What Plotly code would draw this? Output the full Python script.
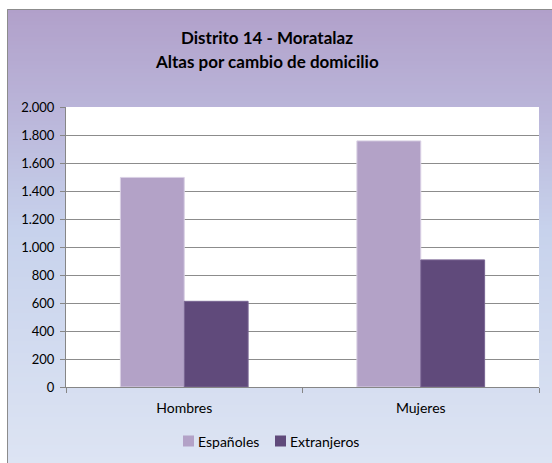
import plotly.graph_objects as go

categories = ["Hombres", "Mujeres"]
espanoles = [1497, 1758]
extranjeros = [612, 908]
series_names = ["Españoles", "Extranjeros"]
series_colors = ["#b3a2c7", "#604a7b"]
title_lines = ["Distrito 14 - Moratalaz", "Altas por cambio de domicilio"]

W, H = 552, 463
L, R, T, B = 66, 539, 107, 387  # plot area in pixels
pw, ph = R - L, B - T

def px(x):
    return (x - L) / pw

def py(y):
    return (B - y) / ph

FONT = "Lato, Carlito, Calibri, sans-serif"

fig = go.Figure()
fig.add_trace(go.Bar(x=categories, y=espanoles, name=series_names[0], showlegend=False,
                     marker=dict(color=series_colors[0], line=dict(color="#d9d0e4", width=1))))
fig.add_trace(go.Bar(x=categories, y=extranjeros, name=series_names[1], showlegend=False,
                     marker=dict(color=series_colors[1], line=dict(color="#7a6694", width=1))))

# background gradient strips
stops = [(9, (177, 160, 202)), (110, (186, 181, 217)), (230, (199, 210, 236)), (463, (221, 228, 243))]
shapes = []
y = 9
step = 4
while y < H:
    yc = y + step / 2
    for i in range(len(stops) - 1):
        if stops[i][0] <= yc <= stops[i + 1][0]:
            t = (yc - stops[i][0]) / (stops[i + 1][0] - stops[i][0])
            c = tuple(round(stops[i][1][k] + t * (stops[i + 1][1][k] - stops[i][1][k])) for k in range(3))
            break
    else:
        c = stops[-1][1]
    shapes.append(dict(type="rect", xref="paper", yref="paper", layer="below",
                       x0=px(7), x1=px(W + 2), y0=py(y), y1=py(min(y + step + 0.5, H + 2)),
                       fillcolor="rgb(%d,%d,%d)" % c, line=dict(width=0)))
    y += step
# plot area white
shapes.append(dict(type="rect", xref="paper", yref="paper", layer="below",
                   x0=0, x1=1, y0=0, y1=1, fillcolor="white", line=dict(width=0)))
# chart border
shapes.append(dict(type="line", xref="paper", yref="paper", x0=px(7.5), x1=px(W + 2), y0=py(9.5), y1=py(9.5),
                   line=dict(color="#8c8c8c", width=1)))
shapes.append(dict(type="line", xref="paper", yref="paper", x0=px(7.5), x1=px(7.5), y0=py(9.5), y1=py(H + 2),
                   line=dict(color="#8c8c8c", width=1)))

# custom legend
legend_marker_x = [183, 275]
annotations = []
for name, col, mx in zip(series_names, series_colors, legend_marker_x):
    shapes.append(dict(type="rect", xref="paper", yref="paper", x0=px(mx), x1=px(mx + 11),
                       y0=py(446.5), y1=py(435.5), fillcolor=col, line=dict(width=0)))
    annotations.append(dict(text=name, xref="paper", yref="paper", x=px(mx + 12.5), y=py(441),
                            xanchor="left", yanchor="middle", showarrow=False,
                            font=dict(size=14, family=FONT, color="#000")))

for line, yy in zip(title_lines, [37, 61.5]):
    annotations.append(dict(text="<b>" + line + "</b>", xref="paper", yref="paper", x=px(266.5), y=py(yy),
                            xanchor="center", yanchor="middle", showarrow=False,
                            font=dict(size=17, family=FONT, color="#000")))

fig.update_layout(
    width=W, height=H,
    margin=dict(l=L, r=W - R, t=T, b=H - B, pad=0),
    paper_bgcolor="white", plot_bgcolor="white",
    separators=",.",
    barmode="group", bargap=0.46, bargroupgap=0,
    font=dict(family=FONT, size=12, color="#000000"),
    shapes=shapes,
    annotations=annotations,
    showlegend=False,
    xaxis=dict(showline=True, linecolor="#868686", linewidth=1, ticks="outside", tickson="boundaries",
               ticklen=5, tickcolor="#868686", tickfont=dict(size=14), showgrid=False,
               ticklabelstandoff=8),
    yaxis=dict(range=[0, 2000], dtick=200, tickformat=",.0f", showline=True, linecolor="#868686",
               linewidth=1, ticks="outside", ticklen=5, tickcolor="#868686", gridcolor="#8c8c8c",
               gridwidth=1, tickfont=dict(size=13), zeroline=False, ticklabelstandoff=3),
)

fig.write_html("out.html", config={"displayModeBar": False, "staticPlot": True},
               post_script="document.body.style.margin='0';document.body.style.overflow='hidden';")
